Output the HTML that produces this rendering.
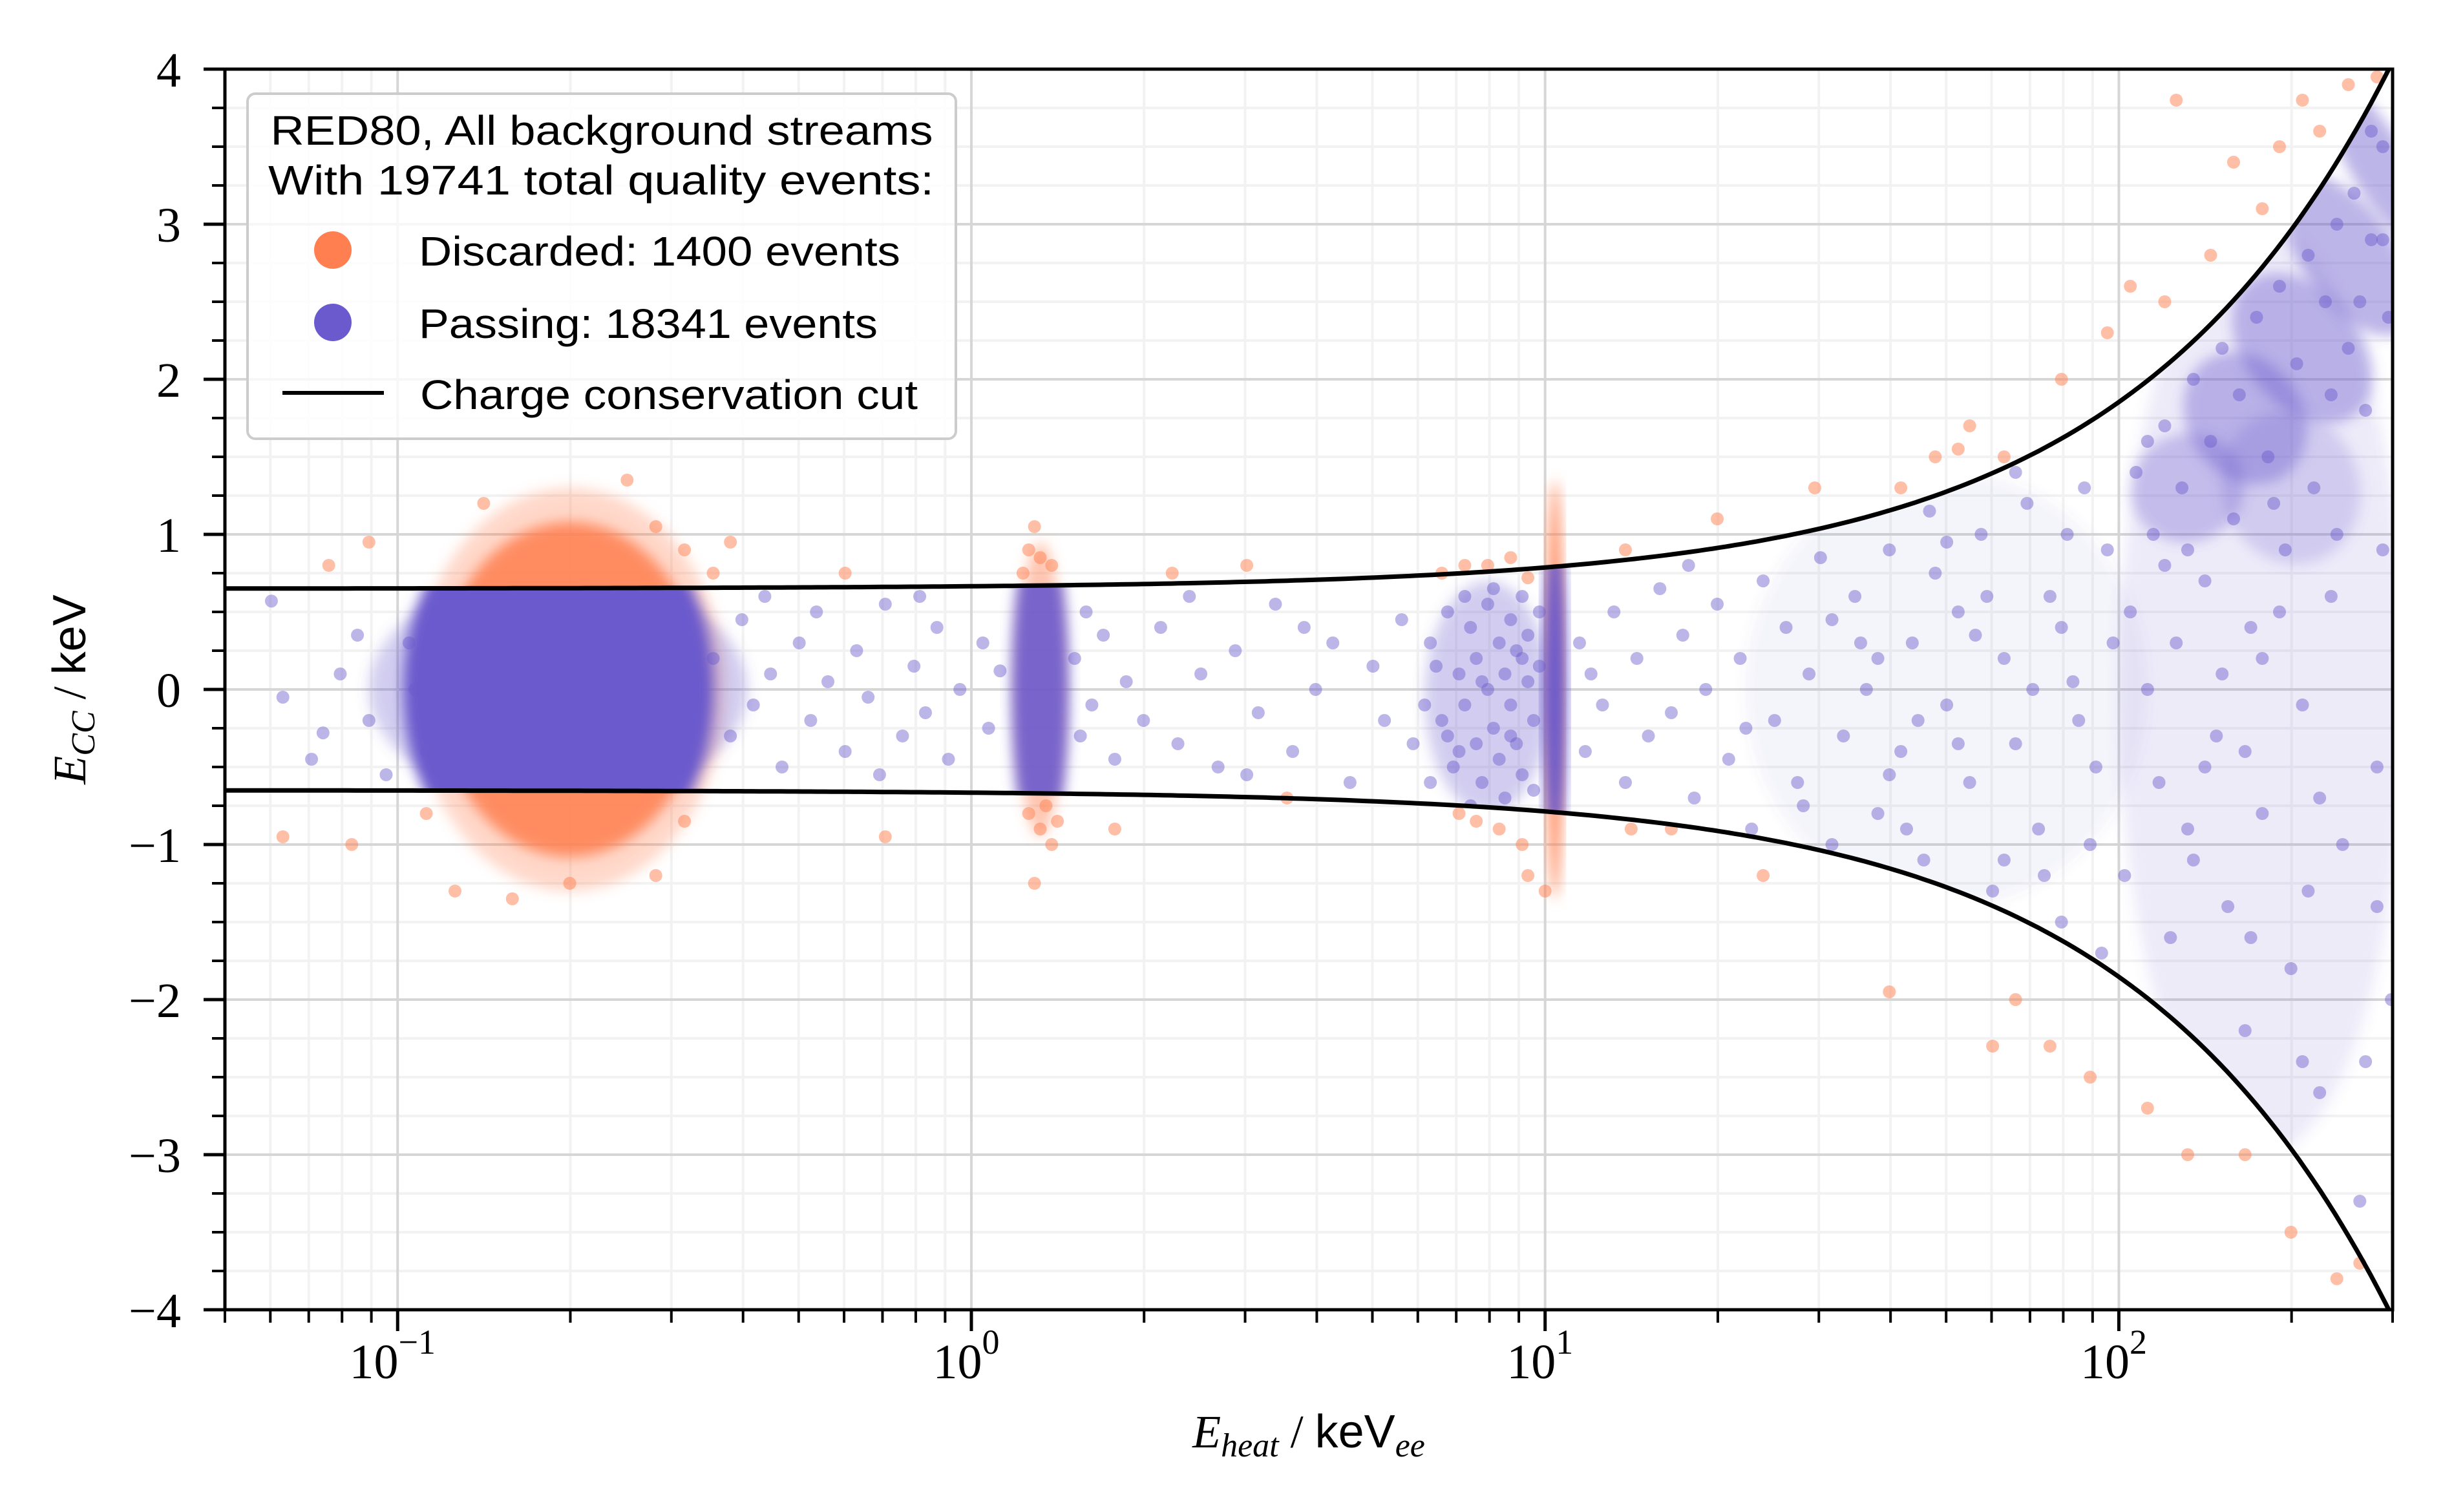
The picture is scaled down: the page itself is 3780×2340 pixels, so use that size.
<!DOCTYPE html>
<html><head><meta charset="utf-8"><style>
html,body{margin:0;padding:0;background:#fff}
svg{display:block}
</style></head><body>
<svg id="chart" width="3780" height="2340" viewBox="0 0 3780 2340" xmlns="http://www.w3.org/2000/svg">
<rect x="0" y="0" width="3780" height="2340" fill="#fff"/>
<defs><clipPath id="plotClip"><rect x="348" y="107" width="3354" height="1920"/></clipPath><clipPath id="bandClip"><path id="bandPath" d=""/></clipPath>
<filter id="soft" x="-20%" y="-20%" width="140%" height="140%"><feGaussianBlur stdDeviation="10"/></filter></defs>
<g id="grid"></g>
<g id="marks" clip-path="url(#plotClip)"></g>
<g id="axes"></g>
<g id="legend">
  <rect x="383" y="145" width="1096" height="534" rx="12" fill="#fff" fill-opacity="0.8" stroke="#cccccc" stroke-width="4"/>
  <text x="931" y="224" text-anchor="middle" font-family="Liberation Sans, sans-serif" font-size="64" textLength="1025" lengthAdjust="spacingAndGlyphs">RED80, All background streams</text>
  <text x="930" y="301" text-anchor="middle" font-family="Liberation Sans, sans-serif" font-size="64" textLength="1030" lengthAdjust="spacingAndGlyphs">With 19741 total quality events:</text>
  <ellipse cx="515" cy="387" rx="29" ry="29" fill="#ff7f50"/>
  <text x="648" y="411" font-family="Liberation Sans, sans-serif" font-size="64" textLength="745" lengthAdjust="spacingAndGlyphs">Discarded: 1400 events</text>
  <ellipse cx="515" cy="499" rx="29" ry="29" fill="#6a5acd"/>
  <text x="648" y="523" font-family="Liberation Sans, sans-serif" font-size="64" textLength="710" lengthAdjust="spacingAndGlyphs">Passing: 18341 events</text>
  <line x1="437" y1="608" x2="594" y2="608" stroke="#000" stroke-width="6"/>
  <text x="650" y="633" font-family="Liberation Sans, sans-serif" font-size="64" textLength="770" lengthAdjust="spacingAndGlyphs">Charge conservation cut</text>
</g>
</svg>
<script>
// ---- data ----
const xTickExps = [-1, 0, 1, 2];
const yTickValues = [-4, -3, -2, -1, 0, 1, 2, 3, 4];
const yTickLabels = ["\u22124", "\u22123", "\u22122", "\u22121", "0", "1", "2", "3", "4"];
const cutOffset = 0.65;
const cutScale = 0.0155;
const cutPower = 0.945;
// dense clusters: [log10 Eheat centre, Ecc centre, half-width (decades), half-height (keV), angle, opacity]
const discardedBlobs = [[-0.70, 0, 0.27, 1.3, 0, 0.3], [-0.70, 0, 0.23, 1.08, 0, 0.85], [0.12, 0, 0.04, 0.95, 0, 0.45], [1.017, 0, 0.014, 1.35, 0, 0.9]];
const passingBlobs = [[-0.72, 0, 0.33, 0.75, 0, 0.3], [-0.72, 0, 0.27, 1.3, 0, 1], [0.12, 0, 0.05, 1.1, 0, 0.9], [0.9, -0.05, 0.11, 0.75, 0, 0.3], [1.017, 0, 0.02, 1.1, 0, 1],
  [1.7, 0, 0.35, 1.4, 0, 0.07], [2.25, 0, 0.25, 3.0, 0, 0.12],
  [2.12, 1.3, 0.1, 0.35, -25, 0.32], [2.22, 1.75, 0.1, 0.45, -35, 0.4], [2.32, 2.2, 0.1, 0.55, -40, 0.4], [2.4, 2.8, 0.08, 0.6, -35, 0.45], [2.45, 3.4, 0.05, 0.6, -30, 0.45], [2.3, 1.3, 0.12, 0.5, -20, 0.22]];
// individual events: [log10 Eheat, Ecc]
const passingPoints = [[-1.22,0.57],[-1.15,-0.45],[-1.1,0.1],[-1.05,-0.2],[-1.07,0.35],[-1.02,-0.55],[-0.98,0.3],[-0.95,-0.4],[-0.97,0.0],[-1.13,-0.28],[-1.2,-0.05],
[-0.45,0.2],[-0.42,-0.3],[-0.4,0.45],[-0.38,-0.1],[-0.35,0.1],[-0.33,-0.5],[-0.3,0.3],[-0.28,-0.2],[-0.25,0.05],[-0.22,-0.4],[-0.2,0.25],[-0.18,-0.05],[-0.15,0.55],[-0.12,-0.3],[-0.1,0.15],[-0.08,-0.15],[-0.06,0.4],[-0.04,-0.45],[-0.02,0.0],[0.02,0.3],[0.03,-0.25],[0.05,0.12],[-0.27,0.5],[-0.16,-0.55],[-0.36,0.6],[-0.09,0.6],
[0.18,0.2],[0.19,-0.3],[0.2,0.5],[0.21,-0.1],[0.23,0.35],[0.25,-0.45],[0.27,0.05],[0.3,-0.2],
[0.33,0.4],[0.36,-0.35],[0.4,0.1],[0.43,-0.5],[0.46,0.25],[0.5,-0.15],[0.53,0.55],[0.56,-0.4],[0.6,0.0],[0.63,0.3],[0.66,-0.6],[0.7,0.15],[0.72,-0.2],[0.75,0.45],[0.77,-0.35],[0.48,-0.55],[0.58,0.4],[0.38,0.6],
[0.8,0.3],[0.82,-0.2],[0.83,0.5],[0.84,-0.5],[0.85,0.1],[0.86,-0.1],[0.87,0.4],[0.88,-0.35],[0.88,0.2],[0.89,-0.6],[0.9,0.0],[0.9,0.55],[0.91,-0.25],[0.92,0.3],[0.92,-0.45],[0.93,0.1],[0.93,-0.7],[0.94,0.45],[0.94,-0.1],[0.95,0.25],[0.95,-0.35],[0.96,0.6],[0.96,-0.55],[0.97,0.05],[0.97,0.35],[0.98,-0.2],[0.98,-0.65],[0.99,0.15],[0.99,0.5],[0.87,-0.75],[0.91,0.65],[0.85,-0.4],[0.89,0.05],[0.94,-0.3],[0.96,0.2],[0.79,-0.1],[0.81,0.15],[0.83,-0.3],[0.86,0.6],[0.8,-0.6],
[1.06,0.3],[1.07,-0.4],[1.08,0.1],[1.1,-0.1],[1.12,0.5],[1.14,-0.6],[1.16,0.2],[1.18,-0.3],[1.2,0.65],[1.22,-0.15],[1.24,0.35],[1.26,-0.7],[1.28,0.0],[1.3,0.55],[1.32,-0.45],[1.34,0.2],[1.36,-0.9],[1.38,0.7],[1.4,-0.2],[1.42,0.4],[1.44,-0.6],[1.46,0.1],[1.48,0.85],[1.5,-1.0],[1.52,-0.3],[1.54,0.6],[1.56,0.0],[1.58,-0.8],[1.6,0.9],[1.62,-0.4],[1.64,0.3],[1.66,-1.1],[1.68,0.75],[1.7,-0.1],[1.72,0.5],[1.74,-0.6],[1.76,1.0],[1.78,-1.3],[1.8,0.2],[1.82,-0.35],[1.84,1.2],[1.86,-0.9],[1.88,0.6],[1.9,-1.5],[1.92,0.05],[1.94,1.3],[1.96,-0.5],[1.98,0.9],[1.5,0.45],[1.6,-0.55],[1.7,0.95],[1.8,-1.1],[1.9,0.4],[1.45,-0.75],[1.55,0.3],[1.65,-0.2],[1.75,0.35],[1.85,0.0],[1.95,-1.0],[1.25,0.8],[1.35,-0.25],
[1.58,0.2],[1.63,-0.9],[1.67,1.15],[1.72,-0.35],[1.77,0.6],[1.82,1.4],[1.87,-1.2],[1.91,1.0],[1.93,-0.2],[1.97,-1.7],[1.99,0.3],
[2.01,-1.2],[2.02,0.5],[2.03,1.4],[2.04,-2.0],[2.05,0.0],[2.06,1.0],[2.07,-0.6],[2.08,1.7],[2.09,-1.6],[2.1,0.3],[2.11,1.3],[2.12,-0.9],[2.13,2.0],[2.14,-2.5],[2.15,0.7],[2.16,1.6],[2.17,-0.3],[2.18,2.2],[2.19,-1.4],[2.2,1.1],[2.21,1.9],[2.22,-2.2],[2.23,0.4],[2.24,2.4],[2.25,-0.8],[2.26,1.5],[2.27,-3.0],[2.28,2.6],[2.29,0.9],[2.3,-1.8],[2.31,2.1],[2.32,-0.1],[2.33,2.8],[2.34,1.3],[2.35,-2.6],[2.36,2.5],[2.37,0.6],[2.38,3.0],[2.39,-1.0],[2.4,2.2],[2.41,3.2],[2.42,-3.3],[2.43,1.8],[2.44,2.9],[2.45,-0.5],[2.46,3.5],[2.47,2.4],[2.475,-2.0],[2.1,-2.3],[2.2,-3.2],[2.3,-3.6],[2.4,-3.8],[2.45,-1.4],[2.35,-0.7],[2.25,0.2],[2.15,-0.5],[2.05,1.6],
[2.08,0.8],[2.13,-1.1],[2.18,0.1],[2.23,-1.6],[2.28,0.5],[2.33,-1.3],[2.38,1.0],[2.43,-2.4],[2.46,0.9],[2.27,1.2],[2.37,1.9],[2.42,2.5],[2.44,3.6],[2.46,2.9],[2.32,-2.4],[2.22,-0.4],[2.12,0.9]];
const discardedPoints = [[-1.12,0.8],[-1.05,0.95],[-0.6,1.35],[-0.55,1.05],[-0.5,0.9],[-0.45,0.75],[-0.42,0.95],[-0.85,1.2],[-0.95,-0.8],[-1.08,-1.0],[-0.9,-1.3],[-0.8,-1.35],[-0.7,-1.25],[-0.55,-1.2],[-0.5,-0.85],[-1.2,-0.95],
[0.09,0.75],[0.1,0.9],[0.12,0.85],[0.14,0.8],[0.11,1.05],[0.1,-0.8],[0.12,-0.9],[0.13,-0.75],[0.14,-1.0],[0.11,-1.25],[0.15,-0.85],
[-0.22,0.75],[-0.15,-0.95],[0.35,0.75],[0.48,0.8],[0.25,-0.9],[0.55,-0.7],
[0.82,0.75],[0.86,0.8],[0.9,0.8],[0.94,0.85],[0.97,0.72],[0.85,-0.8],[0.88,-0.85],[0.92,-0.9],[0.96,-1.0],[0.97,-1.2],[1.0,-1.3],[1.14,0.9],[1.15,-0.9],[1.22,-0.9],[1.3,1.1],[1.38,-1.2],[1.47,1.3],[1.62,1.3],[1.6,-1.95],[1.68,1.5],[1.72,1.55],[1.74,1.7],[1.78,-2.3],[1.8,1.5],[1.82,-2.0],[1.88,-2.3],[1.9,2.0],[1.95,-2.5],[1.98,2.3],[2.02,2.6],[2.05,-2.7],[2.08,2.5],[2.1,3.8],[2.12,-3.0],[2.16,2.8],[2.2,3.4],[2.22,-3.0],[2.25,3.1],[2.28,3.5],[2.3,-3.5],[2.32,3.8],[2.35,3.6],[2.38,-3.8],[2.4,3.9],[2.42,-3.7],[2.45,3.95]];

// ---- scales ----
const NS = "http://www.w3.org/2000/svg";
const L = 348, R = 3702, T = 107, B = 2027;
const xMinLog = Math.log10(0.05), xMaxLog = Math.log10(300);
const yMin = -4, yMax = 4;
function xs(lg) { return L + (lg - xMinLog) / (xMaxLog - xMinLog) * (R - L); }
function ys(v) { return B - (v - yMin) / (yMax - yMin) * (B - T); }
function cut(x) { return cutOffset + cutScale * Math.pow(x, cutPower); }
function mk(tag, attrs, parent) { const e = document.createElementNS(NS, tag); for (const k in attrs) e.setAttribute(k, attrs[k]); parent.appendChild(e); return e; }

const grid = document.getElementById('grid');
const marks = document.getElementById('marks');
const axes = document.getElementById('axes');

for (let d = -2; d <= 2; d++) for (let m = 2; m <= 9; m++) {
  const lg = d + Math.log10(m); if (lg < xMinLog || lg > xMaxLog) continue;
  const l = mk('line', {x1: xs(lg), x2: xs(lg), y1: T, y2: B, stroke: '#f2f2f2', 'stroke-width': 4}, grid);
  
  
}
for (let v = yMin; v <= yMax + 1e-9; v += 0.25) {
  if (Math.abs(v - Math.round(v)) < 1e-9) continue;
  const l = mk('line', {x1: L, x2: R, y1: ys(v), y2: ys(v), stroke: '#f2f2f2', 'stroke-width': 4}, grid);
  
  
}
xTickExps.forEach(e => {
  const l = mk('line', {x1: xs(e), x2: xs(e), y1: T, y2: B, stroke: '#d6d6d6', 'stroke-width': 4}, grid);
  
  
});
yTickValues.forEach(v => {
  const l = mk('line', {x1: L, x2: R, y1: ys(v), y2: ys(v), stroke: '#d6d6d6', 'stroke-width': 4}, grid);
  
  
});

let up = [], lo = [];
for (let i = 0; i <= 200; i++) { const lg = xMinLog + (xMaxLog - xMinLog) * i / 200; const c = cut(Math.pow(10, lg)); up.push([xs(lg), ys(c)]); lo.push([xs(lg), ys(-c)]); }
document.getElementById('bandPath').setAttribute('d', 'M' + up.map(p => p.join(',')).join(' L') + ' L' + lo.reverse().map(p => p.join(',')).join(' L') + ' Z');

function blob(b, color, parent, name) {
  const cx = xs(b[0]), cy = ys(b[1]);
  const rx = xs(b[0] + b[2]) - cx, ry = ys(b[1]) - ys(b[1] + b[3]);
  const e = mk('ellipse', {cx: cx, cy: cy, rx: rx, ry: ry, fill: color, 'fill-opacity': b[5], filter: 'url(#soft)', transform: 'rotate(' + b[4] + ' ' + cx + ' ' + cy + ')'}, parent);
  
  
}
const gD = mk('g', {}, marks);


discardedBlobs.forEach(b => blob(b, '#ff7f50', gD, 'discarded-cluster'));
discardedPoints.forEach(p => {
  const c = mk('circle', {cx: xs(p[0]), cy: ys(p[1]), r: 10, fill: '#ff7f50', 'fill-opacity': 0.5}, gD);
  
  
});
const gP = mk('g', {'clip-path': 'url(#bandClip)'}, marks);


passingBlobs.forEach(b => blob(b, '#6a5acd', gP, 'passing-cluster'));
passingPoints.forEach(p => {
  const c = mk('circle', {cx: xs(p[0]), cy: ys(p[1]), r: 10, fill: '#6a5acd', 'fill-opacity': 0.45}, gP);
  
  
});
[1, -1].forEach(s => {
  let d = '';
  for (let i = 0; i <= 300; i++) { const lg = xMinLog + (xMaxLog - xMinLog) * i / 300; d += (i ? ' L' : 'M') + xs(lg).toFixed(1) + ',' + ys(s * cut(Math.pow(10, lg))).toFixed(1); }
  const p = mk('path', {d: d, fill: 'none', stroke: '#000', 'stroke-width': 7}, marks);
  
  
});

const sp = mk('rect', {x: L, y: T, width: R - L, height: B - T, fill: 'none', stroke: '#000', 'stroke-width': 5}, axes);


for (let d = -2; d <= 2; d++) for (let m = 2; m <= 9; m++) {
  const lg = d + Math.log10(m); if (lg < xMinLog - 1e-9 || lg > xMaxLog + 1e-6) continue;
  const t = mk('line', {x1: xs(lg), x2: xs(lg), y1: B, y2: B + 20, stroke: '#000', 'stroke-width': 4}, axes);
  
  
}
xTickExps.forEach(e => {
  const t = mk('line', {x1: xs(e), x2: xs(e), y1: B, y2: B + 33, stroke: '#000', 'stroke-width': 5}, axes);
  
  
  const tx = mk('text', {x: xs(e) - 8, y: 2133, 'text-anchor': 'middle', 'font-family': 'Liberation Serif, serif', 'font-size': 76}, axes);
  
  
  tx.textContent = '10';
  const ex = mk('tspan', {dy: -38, 'font-size': 54}, tx);
  ex.textContent = e < 0 ? '\u2212' + (-e) : String(e);
});
for (let v = yMin; v <= yMax + 1e-9; v += 0.25) {
  const major = Math.abs(v - Math.round(v)) < 1e-9;
  const t = mk('line', {x1: L - (major ? 33 : 20), x2: L, y1: ys(v), y2: ys(v), stroke: '#000', 'stroke-width': major ? 5 : 4}, axes);
  
  
}
yTickValues.forEach((v, i) => {
  const tx = mk('text', {x: 280, y: ys(v) + 27, 'text-anchor': 'end', 'font-family': 'Liberation Serif, serif', 'font-size': 76}, axes);
  
  
  tx.textContent = yTickLabels[i];
});
const xt = mk('text', {x: 2025, y: 2240, 'text-anchor': 'middle', 'font-family': 'Liberation Serif, serif', 'font-size': 72}, axes);


xt.innerHTML = '<tspan font-style="italic">E</tspan><tspan font-style="italic" font-size="52" dy="14">heat</tspan><tspan dy="-14"> / </tspan><tspan font-family="Liberation Sans, sans-serif">keV</tspan><tspan font-style="italic" font-size="52" dy="14">ee</tspan>';
const yt = mk('text', {x: 0, y: 0, 'text-anchor': 'middle', 'font-family': 'Liberation Serif, serif', 'font-size': 72, transform: 'translate(132,1067) rotate(-90)'}, axes);


yt.innerHTML = '<tspan font-style="italic">E</tspan><tspan font-style="italic" font-size="52" dy="14">CC</tspan><tspan dy="-14"> / </tspan><tspan font-family="Liberation Sans, sans-serif">keV</tspan>';
</script>
</body></html>
